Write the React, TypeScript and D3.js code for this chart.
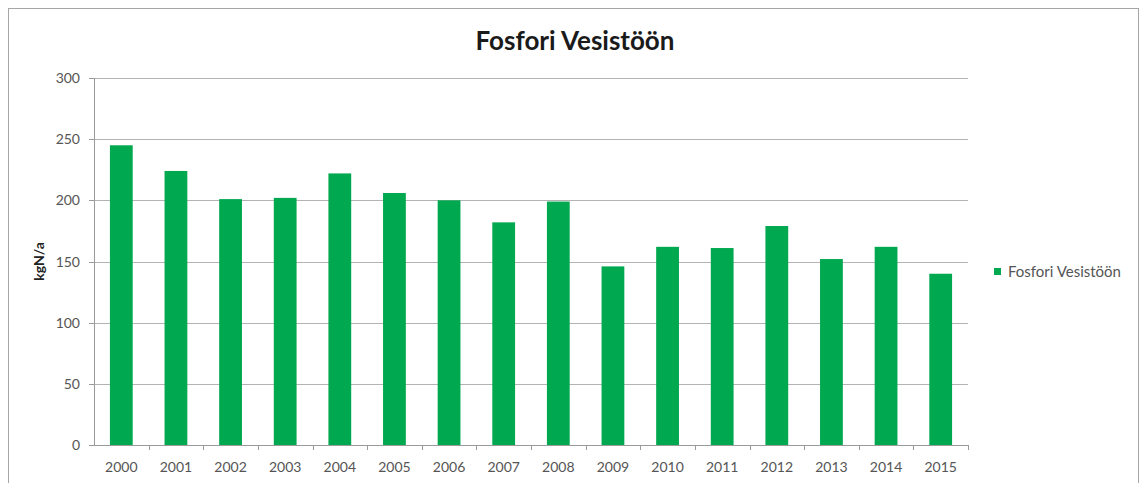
import React from "react";
import * as d3 from "d3";

const categories = ["2000","2001","2002","2003","2004","2005","2006","2007","2008","2009","2010","2011","2012","2013","2014","2015"];
const values = [245, 224, 201, 202, 222, 206, 200, 182, 199, 146, 162, 161, 179, 152, 162, 140];
const yTicks = [0, 50, 100, 150, 200, 250, 300];
const seriesName = "Fosfori Vesistöön";
const title = "Fosfori Vesistöön";
const yLabel = "kgN/a";

const W = 1141, H = 483;
const left = 94, right = 968, top = 78, bottom = 445;
const font = "Lato, 'Open Sans', sans-serif";
const green = "#00a84f";

export default function App() {
  const x = d3.scaleBand<string>().domain(categories).range([left, right]).paddingInner(0.583).paddingOuter(0.2915);
  const xb = d3.scaleBand<string>().domain(categories).range([left, right]);
  const y = d3.scaleLinear().domain([0, 300]).range([bottom, top]);
  return (
    <svg width={W} height={H} style={{ position: "absolute", left: 0, top: 0, display: "block" }}>
      <rect x={0} y={0} width={W} height={H} fill="#fff" />
      <rect x={8.5} y={8.5} width={1130} height={490} fill="#fff" stroke="#a6a6a6" strokeWidth={1} />
      <text x={575} y={50} textAnchor="middle" fontFamily={font} fontWeight="bold" fontSize={26} fill="#1a1a1a">{title}</text>
      {yTicks.map((t) => (
        <g key={t}>
          {t > 0 && <line x1={left} x2={right} y1={Math.round(y(t)) + 0.5} y2={Math.round(y(t)) + 0.5} stroke="#b3b3b3" strokeWidth={1} />}
          <line x1={left - 5} x2={left} y1={Math.round(y(t)) + 0.5} y2={Math.round(y(t)) + 0.5} stroke="#9a9a9a" />
          <text x={left - 14} y={y(t) + 5} textAnchor="end" fontFamily={font} fontSize={14} fill="#555">{t}</text>
        </g>
      ))}
      {categories.map((c, i) => (
        <rect key={c} x={x(c)} y={y(values[i])} width={x.bandwidth()} height={bottom - y(values[i])} fill={green} />
      ))}
      <line x1={left + 0.5} x2={left + 0.5} y1={top} y2={bottom} stroke="#9a9a9a" />
      <line x1={left} x2={right} y1={bottom + 0.5} y2={bottom + 0.5} stroke="#9a9a9a" />
      {categories.map((c) => (
        <line key={"t" + c} x1={Math.round((xb(c) as number) + xb.bandwidth()) + 0.5} x2={Math.round((xb(c) as number) + xb.bandwidth()) + 0.5} y1={bottom} y2={bottom + 5} stroke="#9a9a9a" />
      ))}
      {categories.map((c) => (
        <text key={"l" + c} x={(xb(c) as number) + xb.bandwidth() / 2} y={472} textAnchor="middle" fontFamily={font} fontSize={14} fill="#555">{c}</text>
      ))}
      <text transform={`translate(44,${(top + bottom) / 2}) rotate(-90)`} textAnchor="middle" fontFamily={font} fontWeight="bold" fontSize={14} fill="#222">{yLabel}</text>
      <rect x={994} y={268} width={7} height={7} fill={green} />
      <text x={1008} y={277} fontFamily={font} fontSize={15} fill="#555">{seriesName}</text>
    </svg>
  );
}
